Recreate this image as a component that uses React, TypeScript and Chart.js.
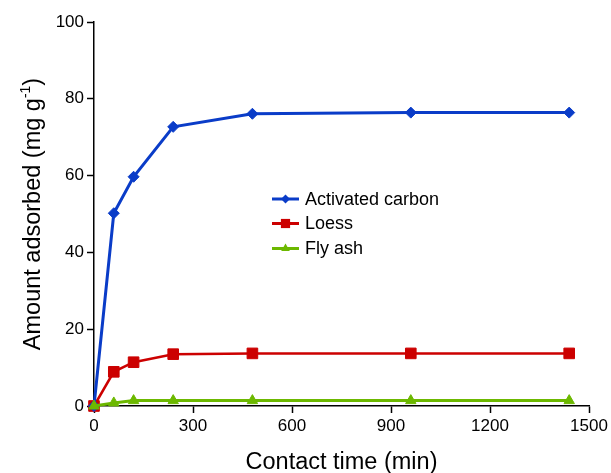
import React, { useEffect, useRef } from "react";
import { Chart, registerables } from "chart.js";

Chart.register(...registerables);

const times = [0, 60, 120, 240, 480, 960, 1440];
const activatedCarbon = [0, 50.2, 59.7, 72.7, 76.1, 76.4, 76.4];
const loess = [0, 8.9, 11.4, 13.5, 13.7, 13.7, 13.7];
const flyAsh = [0, 0.8, 1.4, 1.4, 1.4, 1.4, 1.4];
const seriesNames = ["Activated carbon", "Loess", "Fly ash"];
const xTitle = "Contact time (min)";
const yTitleMain = "Amount adsorbed (mg g";
const yTitleSup = "-1";
const yTitleEnd = ")";

const BLUE = "#0a3cc8";
const RED = "#cc0000";
const GREEN = "#6cb800";
const FONT = "'Liberation Sans', Arial, sans-serif";

const toPts = (ys: number[]) => ys.map((y, i) => ({ x: times[i], y }));

function drawMarker(ctx: CanvasRenderingContext2D, style: string, x: number, y: number, r: number) {
  ctx.beginPath();
  if (style === "rectRot") {
    ctx.moveTo(x, y - r);
    ctx.lineTo(x + r, y);
    ctx.lineTo(x, y + r);
    ctx.lineTo(x - r, y);
  } else if (style === "rect") {
    const s = r * Math.SQRT1_2;
    ctx.rect(x - s, y - s, 2 * s, 2 * s);
  } else {
    ctx.moveTo(x, y - r);
    ctx.lineTo(x + r * 0.866, y + r * 0.5);
    ctx.lineTo(x - r * 0.866, y + r * 0.5);
  }
  ctx.closePath();
  ctx.fill();
}

const titlesPlugin = {
  id: "titlesPlugin",
  afterDraw(chart: any) {
    const ctx = chart.ctx;
    const ca = chart.chartArea;
    ctx.save();
    ctx.fillStyle = "#000";
    ctx.font = `23.5px ${FONT}`;
    ctx.textAlign = "center";
    ctx.textBaseline = "alphabetic";
    ctx.fillText(xTitle, (ca.left + ca.right) / 2, 469);
    ctx.translate(40, (ca.top + ca.bottom) / 2);
    ctx.rotate(-Math.PI / 2);
    const mainFont = `23.5px ${FONT}`;
    const supFont = `14px ${FONT}`;
    ctx.font = mainFont;
    const w1 = ctx.measureText(yTitleMain).width;
    const w3 = ctx.measureText(yTitleEnd).width;
    ctx.font = supFont;
    const w2 = ctx.measureText(yTitleSup).width;
    const total = w1 + w2 + w3;
    let x = -total / 2;
    ctx.textAlign = "left";
    ctx.font = mainFont;
    ctx.fillText(yTitleMain, x, 0);
    x += w1;
    ctx.font = supFont;
    ctx.fillText(yTitleSup, x, -10);
    x += w2;
    ctx.font = mainFont;
    ctx.fillText(yTitleEnd, x, 0);
    ctx.restore();

    const rows = [199, 223.5, 248.5];
    const colors = [BLUE, RED, GREEN];
    const styles = ["rectRot", "rect", "triangle"];
    const radii = [4.5, 6.5, 5];
    ctx.save();
    ctx.font = `18px ${FONT}`;
    ctx.textBaseline = "middle";
    ctx.textAlign = "left";
    rows.forEach((y, i) => {
      ctx.strokeStyle = colors[i];
      ctx.lineWidth = 3;
      ctx.beginPath();
      ctx.moveTo(272, y);
      ctx.lineTo(299, y);
      ctx.stroke();
      ctx.fillStyle = colors[i];
      drawMarker(ctx, styles[i], 285.5, y, radii[i]);
      ctx.fillStyle = "#000";
      ctx.fillText(seriesNames[i], 305, y + 1);
    });
    ctx.restore();
  },
};

export default function App() {
  const ref = useRef<HTMLCanvasElement | null>(null);
  useEffect(() => {
    if (!ref.current) return;
    const axisCommon = {
      type: "linear" as const,
      border: { display: true, color: "#000", width: 1.5 },
      grid: {
        display: true,
        drawOnChartArea: false,
        drawTicks: true,
        tickLength: 7,
        tickWidth: 1.5,
        tickColor: "#000",
      },
    };
    const chart = new Chart(ref.current, {
      type: "line",
      data: {
        datasets: [
          {
            label: seriesNames[0],
            data: toPts(activatedCarbon),
            borderColor: BLUE,
            backgroundColor: BLUE,
            borderWidth: 3,
            pointStyle: "rectRot",
            pointRadius: 5.5,
            pointBorderWidth: 1,
            tension: 0,
            clip: false,
            order: 1,
          },
          {
            label: seriesNames[1],
            data: toPts(loess),
            borderColor: RED,
            backgroundColor: RED,
            borderWidth: 2.5,
            pointStyle: "rect",
            pointRadius: 7.5,
            pointBorderWidth: 1,
            tension: 0,
            clip: false,
            order: 2,
          },
          {
            label: seriesNames[2],
            data: toPts(flyAsh),
            borderColor: GREEN,
            backgroundColor: GREEN,
            borderWidth: 3,
            pointStyle: "triangle",
            pointRadius: 6,
            pointBorderWidth: 1,
            tension: 0,
            clip: false,
            order: 0,
          },
        ],
      },
      options: {
        animation: false,
        responsive: false,
        maintainAspectRatio: false,
        devicePixelRatio: 1,
        layout: { padding: { left: 0, top: 22, right: 22, bottom: 0 } },
        plugins: {
          legend: { display: false },
          tooltip: { enabled: false },
        },
        scales: {
          x: {
            ...axisCommon,
            min: 0,
            max: 1500,
            ticks: {
              stepSize: 300,
              color: "#000",
              padding: 3,
              maxRotation: 0,
              font: { family: FONT, size: 17 },
              callback: (v: any) => String(v),
            },
            afterFit: (s: any) => {
              s.height = 67;
            },
          },
          y: {
            ...axisCommon,
            min: 0,
            max: 100,
            ticks: {
              stepSize: 20,
              color: "#000",
              padding: 3,
              font: { family: FONT, size: 17 },
              callback: (v: any) => String(v),
            },
            afterFit: (s: any) => {
              s.width = 94;
            },
          },
        },
      },
      plugins: [titlesPlugin],
    } as any);
    return () => chart.destroy();
  }, []);
  return (
    <div style={{ position: "fixed", left: 0, top: 0, width: 611, height: 473, background: "#fff" }}>
      <canvas ref={ref} width={611} height={473} style={{ display: "block", width: 611, height: 473 }} />
    </div>
  );
}
